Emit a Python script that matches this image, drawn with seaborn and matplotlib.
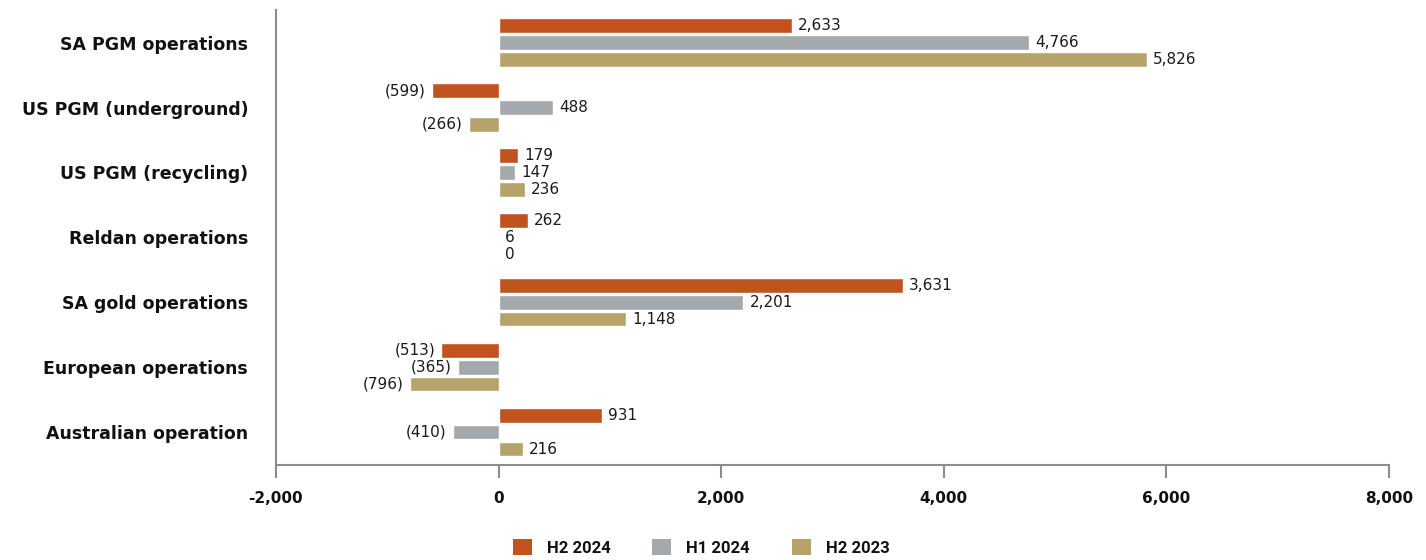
import matplotlib
matplotlib.use("Agg")
import matplotlib.pyplot as plt
import seaborn as sns
import pandas as pd

categories = ["SA PGM operations", "US PGM (underground)", "US PGM (recycling)",
              "Reldan operations", "SA gold operations", "European operations",
              "Australian operation"]
series = ["H2 2024", "H1 2024", "H2 2023"]
h2_2024 = [2633, -599, 179, 262, 3631, -513, 931]
h1_2024 = [4766, 488, 147, 6, 2201, -365, -410]
h2_2023 = [5826, -266, 236, 0, 1148, -796, 216]
colors = ["#C0531E", "#A3A9AC", "#B5A36A"]
xticks = [-2000, 0, 2000, 4000, 6000, 8000]

rows = []
for s, vals in zip(series, [h2_2024, h1_2024, h2_2023]):
    for c, v in zip(categories, vals):
        rows.append({"cat": c, "series": s, "value": v})
df = pd.DataFrame(rows)

sns.set_style("white")
plt.rcParams["font.family"] = ["DejaVu Sans"]
plt.rcParams["text.color"] = "#111111"
plt.rcParams["xtick.color"] = "#111111"
plt.rcParams["ytick.color"] = "#111111"

fig = plt.figure(figsize=(14.26, 5.6), dpi=100)
ax = fig.add_axes([0.1935, 0.170, 0.7805, 0.812])

sns.barplot(data=df, y="cat", x="value", hue="series", order=categories,
            hue_order=series, palette=colors, orient="h", width=0.78,
            gap=0.15, ax=ax, legend=False, saturation=1)

ax.set_xlim(-2000, 8000)
ax.set_ylim(6.5, -0.5)
ax.set_xticks(xticks)
ax.set_xticklabels([f"{t:,}" for t in xticks], fontsize=11, fontweight="bold",
                   color="#111111")
ax.set_yticks(range(len(categories)))
ax.set_yticklabels(categories, fontsize=12.5, fontweight="bold", color="#111111")
ax.tick_params(axis="y", length=0, pad=20, left=False)
ax.tick_params(axis="x", bottom=True, length=9, width=1.5, color="#8C8C8C",
               direction="out", pad=10)
ax.set_xlabel("")
ax.set_ylabel("")
for sp in ["top", "right"]:
    ax.spines[sp].set_visible(False)
for sp in ["left", "bottom"]:
    ax.spines[sp].set_color("#8C8C8C")
    ax.spines[sp].set_linewidth(1.5)

def fmt(v):
    return f"({abs(v):,})" if v < 0 else f"{v:,}"

for container in ax.containers:
    for bar in container:
        w = bar.get_width()
        y = bar.get_y() + bar.get_height() / 2
        if w < 0:
            ax.text(w - 55, y, fmt(int(round(w))), ha="right", va="center",
                    fontsize=11, color="#1a1a1a")
        else:
            ax.text(w + 55, y, fmt(int(round(w))), ha="left", va="center",
                    fontsize=11, color="#1a1a1a")

from matplotlib.patches import Patch
handles = [Patch(facecolor=c, edgecolor="none") for c in colors]
fig.legend(handles, series, loc="center", bbox_to_anchor=(0.4916, 0.023), ncol=3,
           frameon=False, prop={"weight": "bold", "size": 12, "family": "Roboto"},
           handlelength=1.14, handleheight=1.14, columnspacing=2.5,
           handletextpad=0.9)

fig.savefig("out.png", dpi=100)
